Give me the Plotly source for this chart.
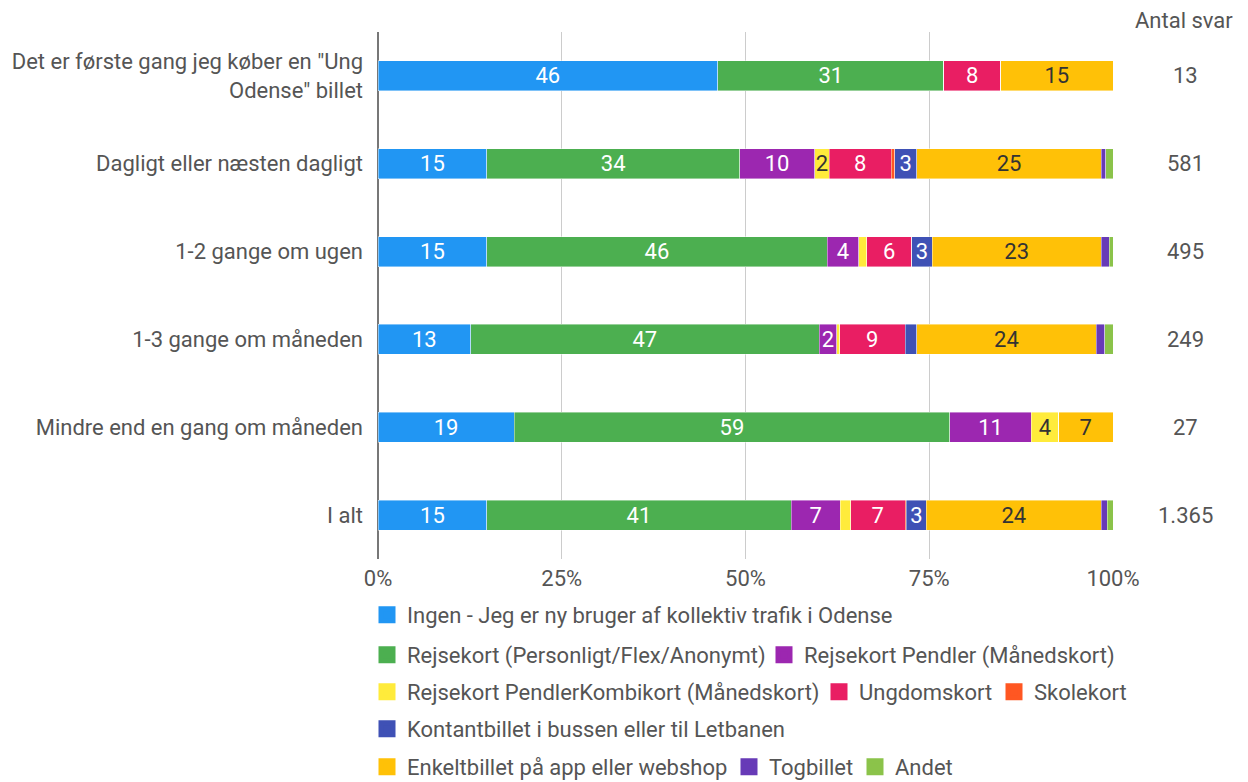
import plotly.graph_objects as go

categories = ['Det er første gang jeg køber en "Ung<br>Odense" billet',
              'Dagligt eller næsten dagligt',
              '1-2 gange om ugen',
              '1-3 gange om måneden',
              'Mindre end en gang om måneden',
              'I alt']
antal_svar = ['13', '581', '495', '249', '27', '1.365']

series_names = [
    'Ingen - Jeg er ny bruger af kollektiv trafik i Odense',
    'Rejsekort (Personligt/Flex/Anonymt)',
    'Rejsekort Pendler (Månedskort)',
    'Rejsekort PendlerKombikort (Månedskort)',
    'Ungdomskort',
    'Skolekort',
    'Kontantbillet i bussen eller til Letbanen',
    'Enkeltbillet på app eller webshop',
    'Togbillet',
    'Andet',
]

ingen       = [46.2, 14.8, 14.8, 12.6, 18.52, 14.8]
rejsekort   = [30.8, 34.4, 46.3, 47.4, 59.26, 41.4]
pendler     = [0.0, 10.2, 4.3, 2.4, 11.11, 6.7]
kombikort   = [0.0, 2.0, 1.1, 0.4, 3.70, 1.4]
ungdomskort = [7.7, 8.4, 6.1, 8.9, 0.0, 7.4]
skolekort   = [0.0, 0.5, 0.0, 0.0, 0.0, 0.2]
kontant     = [0.0, 3.0, 2.8, 1.6, 0.0, 2.7]
enkelt      = [15.3, 25.1, 23.0, 24.4, 7.41, 23.8]
tog         = [0.0, 0.6, 1.1, 1.2, 0.0, 0.8]
andet       = [0.0, 1.0, 0.5, 1.1, 0.0, 0.8]

series_values = [ingen, rejsekort, pendler, kombikort, ungdomskort,
                 skolekort, kontant, enkelt, tog, andet]

colors = ['#2196F3', '#4CAF50', '#9C27B0', '#FFEB3B', '#E91E63',
          '#FF5722', '#3F51B5', '#FFC107', '#673AB7', '#8BC34A']
text_colors = ['#ffffff', '#ffffff', '#ffffff', '#333333', '#ffffff',
               '#ffffff', '#ffffff', '#333333', '#ffffff', '#ffffff']

FONT = 'Roboto, Arial, sans-serif'
GRAY = '#555555'
FS = 22
OFF = 8                     # page body margin around the figure
W, H = 1248 - OFF, 782 - OFF

# target page pixels, converted to figure pixels
PLOT_L, PLOT_R, PLOT_T, PLOT_B = 378 - OFF, 1113 - OFF, 32 - OFF, 559 - OFF
PW, PH = PLOT_R - PLOT_L, PLOT_B - PLOT_T
# legend entries: (icon left px, row center px) in the page
legend_pos = [(378, 615), (378, 655), (775, 655), (378, 692), (830, 692),
              (1005, 692), (378, 729), (378, 767), (740, 767), (866, 767)]

fig = go.Figure()
for i, (name, vals) in enumerate(zip(series_names, series_values)):
    txt = [f"{v:.0f}" if v >= 1.9 else "" for v in vals]
    lname = 'legend' if i == 0 else f'legend{i+1}'
    fig.add_trace(go.Bar(
        y=categories, x=vals, name=name, orientation='h',
        marker=dict(color=colors[i], line=dict(width=0.6, color='rgba(255,255,255,0.7)')),
        text=txt, textposition='inside', insidetextanchor='middle',
        textangle=0,
        textfont=dict(family=FONT, size=FS, color=text_colors[i]),
        legend=lname, legendgroup=name, showlegend=False, hoverinfo='x+name',
    ))
    # legend-only entry (no data) so the legend swatch can be larger
    fig.add_trace(go.Bar(
        y=[categories[-1]], x=[None], name=name, orientation='h',
        marker=dict(color=colors[i], line=dict(width=5, color=colors[i])),
        legend=lname, legendgroup=name, showlegend=True, hoverinfo='skip',
    ))

annotations = []
for cat, n in zip(categories, antal_svar):
    annotations.append(dict(x=(1185 - 378) / PW, xref='paper', y=cat, yref='y', text=n,
                            showarrow=False, xanchor='center',
                            font=dict(family=FONT, size=FS, color=GRAY)))
annotations.append(dict(x=(1184 - 378) / PW, xref='paper', y=(559 - 20) / PH, yref='paper',
                        text='Antal svar', showarrow=False, xanchor='center',
                        yanchor='middle', font=dict(family=FONT, size=FS, color=GRAY)))

layout_legends = {}
for i, (lx, ly) in enumerate(legend_pos):
    key = 'legend' if i == 0 else f'legend{i+1}'
    layout_legends[key] = dict(
        orientation='h', xref='container', yref='container',
        x=(lx - OFF - 11) / W, y=1 - (ly - OFF) / H,
        xanchor='left', yanchor='middle', bgcolor='rgba(0,0,0,0)',
        font=dict(family=FONT, size=FS, color=GRAY), itemwidth=30,
        traceorder='normal', itemclick=False, itemdoubleclick=False,
    )

fig.update_layout(
    barmode='stack', bargap=0.66,
    width=W, height=H, showlegend=True,
    margin=dict(l=PLOT_L, r=W - PLOT_R, t=PLOT_T, b=H - PLOT_B, pad=0,
                autoexpand=False),
    paper_bgcolor='white', plot_bgcolor='white',
    font=dict(family=FONT, size=FS, color=GRAY),
    xaxis=dict(range=[0, 100], tickvals=[0, 25, 50, 75, 100],
               ticktext=['0%', '25%', '50%', '75%', '100%'],
               showgrid=True, gridcolor='#cccccc', gridwidth=1,
               zeroline=True, zerolinecolor='#777777', zerolinewidth=1.5,
               ticklabelstandoff=4, fixedrange=True, automargin=False,
               tickfont=dict(family=FONT, size=FS, color=GRAY)),
    yaxis=dict(categoryorder='array', categoryarray=categories,
               autorange='reversed', showgrid=False, zeroline=False,
               ticklabelstandoff=14, fixedrange=True, automargin=False,
               tickfont=dict(family=FONT, size=FS, color=GRAY)),
    annotations=annotations,
    uniformtext=dict(minsize=FS, mode='show'),
    **layout_legends,
)

fig.write_html("out.html")
